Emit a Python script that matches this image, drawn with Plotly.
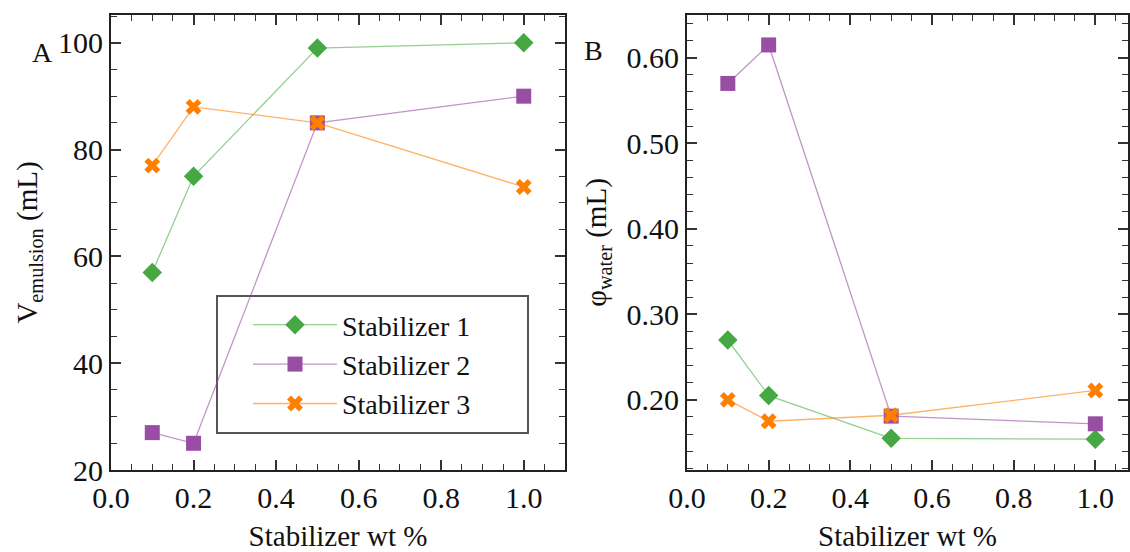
import plotly.graph_objects as go
from plotly.subplots import make_subplots

x_vals = [0.1, 0.2, 0.5, 1.0]
series_names = ["Stabilizer 1", "Stabilizer 2", "Stabilizer 3"]
vol_s1 = [57, 75, 99, 100]
vol_s2 = [27, 25, 85, 90]
vol_s3 = [77, 88, 85, 73]
phi_s1 = [0.270, 0.205, 0.155, 0.154]
phi_s2 = [0.570, 0.615, 0.181, 0.172]
phi_s3 = [0.200, 0.175, 0.182, 0.211]

marker_colors = ["#45a843", "#984ea3", "#ff7f00"]
line_colors = ["rgba(77,175,74,0.6)", "rgba(152,78,163,0.6)", "rgba(255,127,0,0.6)"]
symbols = ["diamond", "square", "x"]
msizes = [15, 15, 14]

fig = make_subplots(rows=1, cols=2)
for i, (ya, yb) in enumerate(zip([vol_s1, vol_s2, vol_s3], [phi_s1, phi_s2, phi_s3])):
    common = dict(mode="lines+markers", name=series_names[i],
                  line=dict(color=line_colors[i], width=1.3),
                  marker=dict(color=marker_colors[i], symbol=symbols[i], size=msizes[i],
                              line=dict(width=0)))
    fig.add_trace(go.Scatter(x=x_vals, y=ya, legendgroup=str(i), showlegend=True, **common), row=1, col=1)
    fig.add_trace(go.Scatter(x=x_vals, y=yb, legendgroup=str(i), showlegend=False, **common), row=1, col=2)

font_family = "Liberation Serif"
axis_common = dict(showline=True, linecolor="#222", linewidth=2, mirror="allticks",
                   ticks="inside", ticklen=10, tickwidth=1.5, tickcolor="#333",
                   showgrid=False, zeroline=False, automargin=False,
                   tickfont=dict(family=font_family, size=30, color="#111"))
title_font = dict(family=font_family, size=29, color="#111")
minor_common = dict(ticks="inside", ticklen=6, tickcolor="#333", tickwidth=1.2)

fig.update_xaxes(**axis_common, range=[0, 1.1], dtick=0.2, tickformat=".1f",
                 minor=dict(dtick=0.05, **minor_common),
                 title=dict(text="Stabilizer wt %", font=title_font, standoff=14),
                 row=1, col=1)
fig.update_xaxes(**axis_common, range=[0, 1.08], dtick=0.2, tickformat=".1f",
                 minor=dict(dtick=0.05, **minor_common),
                 title=dict(text="Stabilizer wt %", font=title_font, standoff=14),
                 row=1, col=2)
fig.update_yaxes(**axis_common, range=[20, 105.2], dtick=20,
                 minor=dict(dtick=5, **minor_common),
                 title=dict(text="V<sub>emulsion</sub> (mL)", font=title_font, standoff=12),
                 row=1, col=1)
fig.update_yaxes(**axis_common, range=[0.118, 0.65], dtick=0.1, tickformat=".2f",
                 minor=dict(dtick=0.02, **minor_common),
                 title=dict(text="φ<sub>water</sub> (mL)", font=title_font, standoff=11),
                 row=1, col=2)

fig.update_layout(
    width=1130, height=552,
    margin=dict(l=0, r=0, t=0, b=0),
    plot_bgcolor="white", paper_bgcolor="white",
    xaxis=dict(domain=[111/1130, 565/1130]),
    xaxis2=dict(domain=[687/1130, 1128/1130]),
    yaxis=dict(domain=[1-470/552, 1-15/552]),
    yaxis2=dict(domain=[1-470/552, 1-15/552]),
    legend=dict(x=248/1130, y=1-300/552, xanchor="left", yanchor="top",
                bgcolor="rgba(0,0,0,0)", borderwidth=0,
                font=dict(family=font_family, size=28, color="#111"),
                itemwidth=84, tracegroupgap=0),
    shapes=[dict(type="rect", xref="paper", yref="paper",
                 x0=217/1130, x1=528/1130, y0=1-433/552, y1=1-296/552,
                 line=dict(color="#555", width=2), fillcolor="white", layer="below")],
    annotations=[
        dict(text="A", x=30/1130, y=1-35/552, xref="paper", yref="paper", showarrow=False,
             font=dict(family=font_family, size=28, color="#111")),
        dict(text="B", x=593/1130, y=1-33/552, xref="paper", yref="paper", showarrow=False,
             font=dict(family=font_family, size=28, color="#111")),
    ],
)

fig.write_html("out.html")
